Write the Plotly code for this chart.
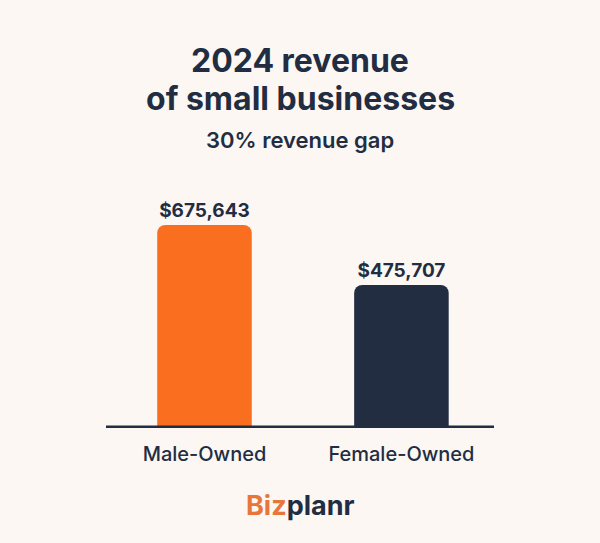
import plotly.graph_objects as go

categories = ["Male-Owned", "Female-Owned"]
values = [675643, 475707]
labels = ["$675,643", "$475,707"]
colors = ["#F96E1F", "#222D42"]

DARK = "#222D42"
BG = "#FCF7F3"
FONT = "Inter"

fig = go.Figure(go.Bar(
    x=categories, y=values, marker=dict(color=colors, line=dict(width=0)),
    width=0.48, text=labels, textposition="outside", cliponaxis=False,
    textfont=dict(family=FONT, size=19, color=DARK, weight=700),
))
fig.update_layout(
    width=600, height=543, paper_bgcolor=BG, plot_bgcolor=BG,
    margin=dict(l=106, r=106, t=180, b=115),
    barcornerradius=8, showlegend=False,
    xaxis=dict(range=[-0.5, 1.47], showgrid=False, zeroline=False, showline=False,
               tickfont=dict(family=FONT, size=20, color=DARK, weight=500), ticklabelstandoff=12),
    yaxis=dict(range=[0, 825000], visible=False),
    shapes=[dict(type="line", xref="paper", yref="y", x0=0, x1=1, y0=0, y1=0,
                 line=dict(color=DARK, width=5))],
    annotations=[
        dict(text="2024 revenue", xref="paper", yref="paper", yanchor="middle",
             x=0.5, y=1.0, yshift=120, showarrow=False,
             font=dict(family=FONT, size=32, color=DARK, weight=700)),
        dict(text="of small businesses", xref="paper", yref="paper", yanchor="middle",
             x=0.5, y=1.0, yshift=82, showarrow=False,
             font=dict(family=FONT, size=32, color=DARK, weight=700)),
        dict(text="30% revenue gap", xref="paper", yref="paper", yanchor="middle",
             x=0.5, y=1.0, yshift=40,
             showarrow=False, font=dict(family=FONT, size=22, color=DARK, weight=600)),
        dict(text="<span style='color:#E8763A'>Biz</span>planr", xref="paper", yref="paper",
             yanchor="middle", x=0.5, y=0, yshift=-77, showarrow=False,
             font=dict(family=FONT, size=27, color=DARK, weight=700)),
    ],
)
fig.write_html("out.html", config={"displayModeBar": False},
               post_script="document.body.style.margin='0';document.body.style.background='#FCF7F3';")
